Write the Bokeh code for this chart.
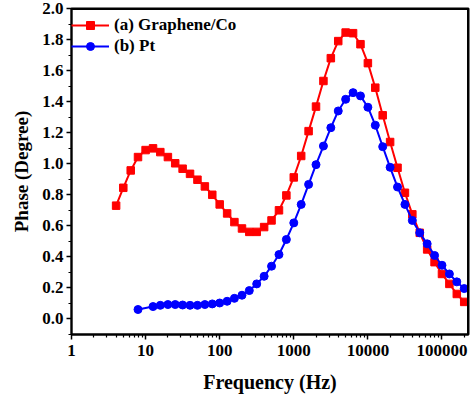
from bokeh.plotting import figure
from bokeh.models import Range1d, FixedTicker, PrintfTickFormatter, Span
from bokeh.embed import file_html
from bokeh.resources import INLINE

# Frequencies (Hz) of the Graphene/Co series
freq_a = [4.0, 5.0, 6.3, 7.9, 10, 12.6, 15.8, 20, 25.1, 31.6, 39.8, 50.1, 63.1, 79.4,
          100, 126, 158, 200, 251, 316, 398, 501, 631, 794,
          1000, 1259, 1585, 1995, 2512, 3162, 3981, 5012, 6310, 7943,
          10000, 12589, 15849, 19953, 25119, 31623, 39811, 50119, 63096, 79433,
          100000, 125893, 158489, 199526]
phase_a = [0.73, 0.845, 0.957, 1.043, 1.088, 1.099, 1.075, 1.043, 1.003, 0.968,
           0.935, 0.897, 0.854, 0.80, 0.738, 0.68, 0.624, 0.583, 0.561, 0.561,
           0.592, 0.635, 0.70, 0.796, 0.912, 1.05, 1.21, 1.368, 1.533, 1.68,
           1.79, 1.845, 1.841, 1.77, 1.648, 1.49, 1.312, 1.14, 0.974, 0.813,
           0.674, 0.555, 0.448, 0.366, 0.29, 0.226, 0.161, 0.11]

# Frequencies (Hz) of the Pt series
freq_b = [7.9, 12.6, 15.8, 20, 25.1, 31.6, 39.8, 50.1, 63.1, 79.4,
          100, 126, 158, 200, 251, 316, 398, 501, 631, 794,
          1000, 1259, 1585, 1995, 2512, 3162, 3981, 5012, 6310, 7943,
          10000, 12589, 15849, 19953, 25119, 31623, 39811, 50119, 63096, 79433,
          100000, 125893, 158489, 199526]
phase_b = [0.061, 0.08, 0.088, 0.093, 0.093, 0.09, 0.088, 0.088, 0.093, 0.097,
           0.103, 0.114, 0.133, 0.153, 0.183, 0.226, 0.275, 0.34, 0.415, 0.512,
           0.619, 0.738, 0.867, 0.994, 1.114, 1.232, 1.34, 1.415, 1.458, 1.437,
           1.364, 1.248, 1.11, 0.977, 0.85, 0.738, 0.635, 0.555, 0.484, 0.409,
           0.346, 0.29, 0.239, 0.196]

label_a = "(a) Graphene/Co"
label_b = "(b) Pt"
x_ticks = [1, 10, 100, 1000, 10000, 100000]
y_ticks = [0.0, 0.2, 0.4, 0.6, 0.8, 1.0, 1.2, 1.4, 1.6, 1.8, 2.0]
x_min, x_max = 1, 228000
y_min, y_max = -0.1, 2.0

FONT = "Liberation Serif"
RED = "#ff0000"
BLUE = "#0000ff"

p = figure(frame_width=397, frame_height=326, x_axis_type="log",
           x_range=Range1d(x_min, x_max), y_range=Range1d(y_min, y_max),
           output_backend="svg", toolbar_location=None,
           min_border_left=71, min_border_right=6, min_border_top=8, min_border_bottom=61)

p.line(freq_a, phase_a, color=RED, line_width=2, legend_label=label_a)
p.scatter(freq_a, phase_a, marker="square", size=7.5, color=RED, legend_label=label_a)
p.line(freq_b, phase_b, color=BLUE, line_width=2, legend_label=label_b)
p.scatter(freq_b, phase_b, marker="circle", size=8, color=BLUE, legend_label=label_b)

p.xgrid.visible = False
p.ygrid.visible = False
p.outline_line_color = "black"
p.outline_line_width = 2
p.outline_line_alpha = 1.0

# frame border on top and right
p.add_layout(Span(location=y_max, dimension="width", line_color="black", line_width=3))
p.add_layout(Span(location=x_max, dimension="height", line_color="black", line_width=3))

minor_x = [m * 10 ** k for k in range(0, 6) for m in range(2, 10) if m * 10 ** k <= x_max]
p.xaxis.ticker = FixedTicker(ticks=x_ticks, minor_ticks=minor_x)
p.xaxis.formatter = PrintfTickFormatter(format="%d")
minor_y = [round(-0.1 + 0.1 * i, 2) for i in range(22)]
p.yaxis.ticker = FixedTicker(ticks=y_ticks, minor_ticks=minor_y)
p.yaxis.formatter = PrintfTickFormatter(format="%.1f")

for ax in (p.xaxis[0], p.yaxis[0]):
    ax.axis_line_color = "black"
    ax.axis_line_width = 1.8
    ax.major_tick_line_color = "black"
    ax.major_tick_line_width = 1.5
    ax.minor_tick_line_color = "black"
    ax.minor_tick_line_width = 1.2
    ax.major_tick_in = 0
    ax.major_tick_out = 5
    ax.minor_tick_in = 0
    ax.minor_tick_out = 3
    ax.major_label_text_font = FONT
    ax.major_label_text_font_style = "bold"
    ax.major_label_text_font_size = "17px"
    ax.major_label_text_color = "black"
    ax.axis_label_text_font = FONT
    ax.axis_label_text_font_style = "bold"
    ax.axis_label_text_color = "black"

p.xaxis.axis_label = "Frequency (Hz)"
p.yaxis.axis_label = "Phase (Degree)"
p.xaxis.axis_label_text_font_size = "20px"
p.yaxis.axis_label_text_font_size = "19px"
p.xaxis.major_label_standoff = 5
p.xaxis.axis_label_standoff = 12
p.yaxis.major_label_standoff = 3
p.yaxis.axis_label_standoff = 7

lg = p.legend[0]
lg.location = (0, 278)
lg.margin = 0
lg.padding = 1
lg.spacing = 1
lg.glyph_width = 38
lg.glyph_height = 20
lg.label_height = 20
lg.label_standoff = 5
lg.border_line_color = None
lg.background_fill_alpha = 0
lg.label_text_font = FONT
lg.label_text_font_style = "bold"
lg.label_text_font_size = "17px"
lg.label_text_color = "black"

open("out.html", "w").write(file_html(p, INLINE))
